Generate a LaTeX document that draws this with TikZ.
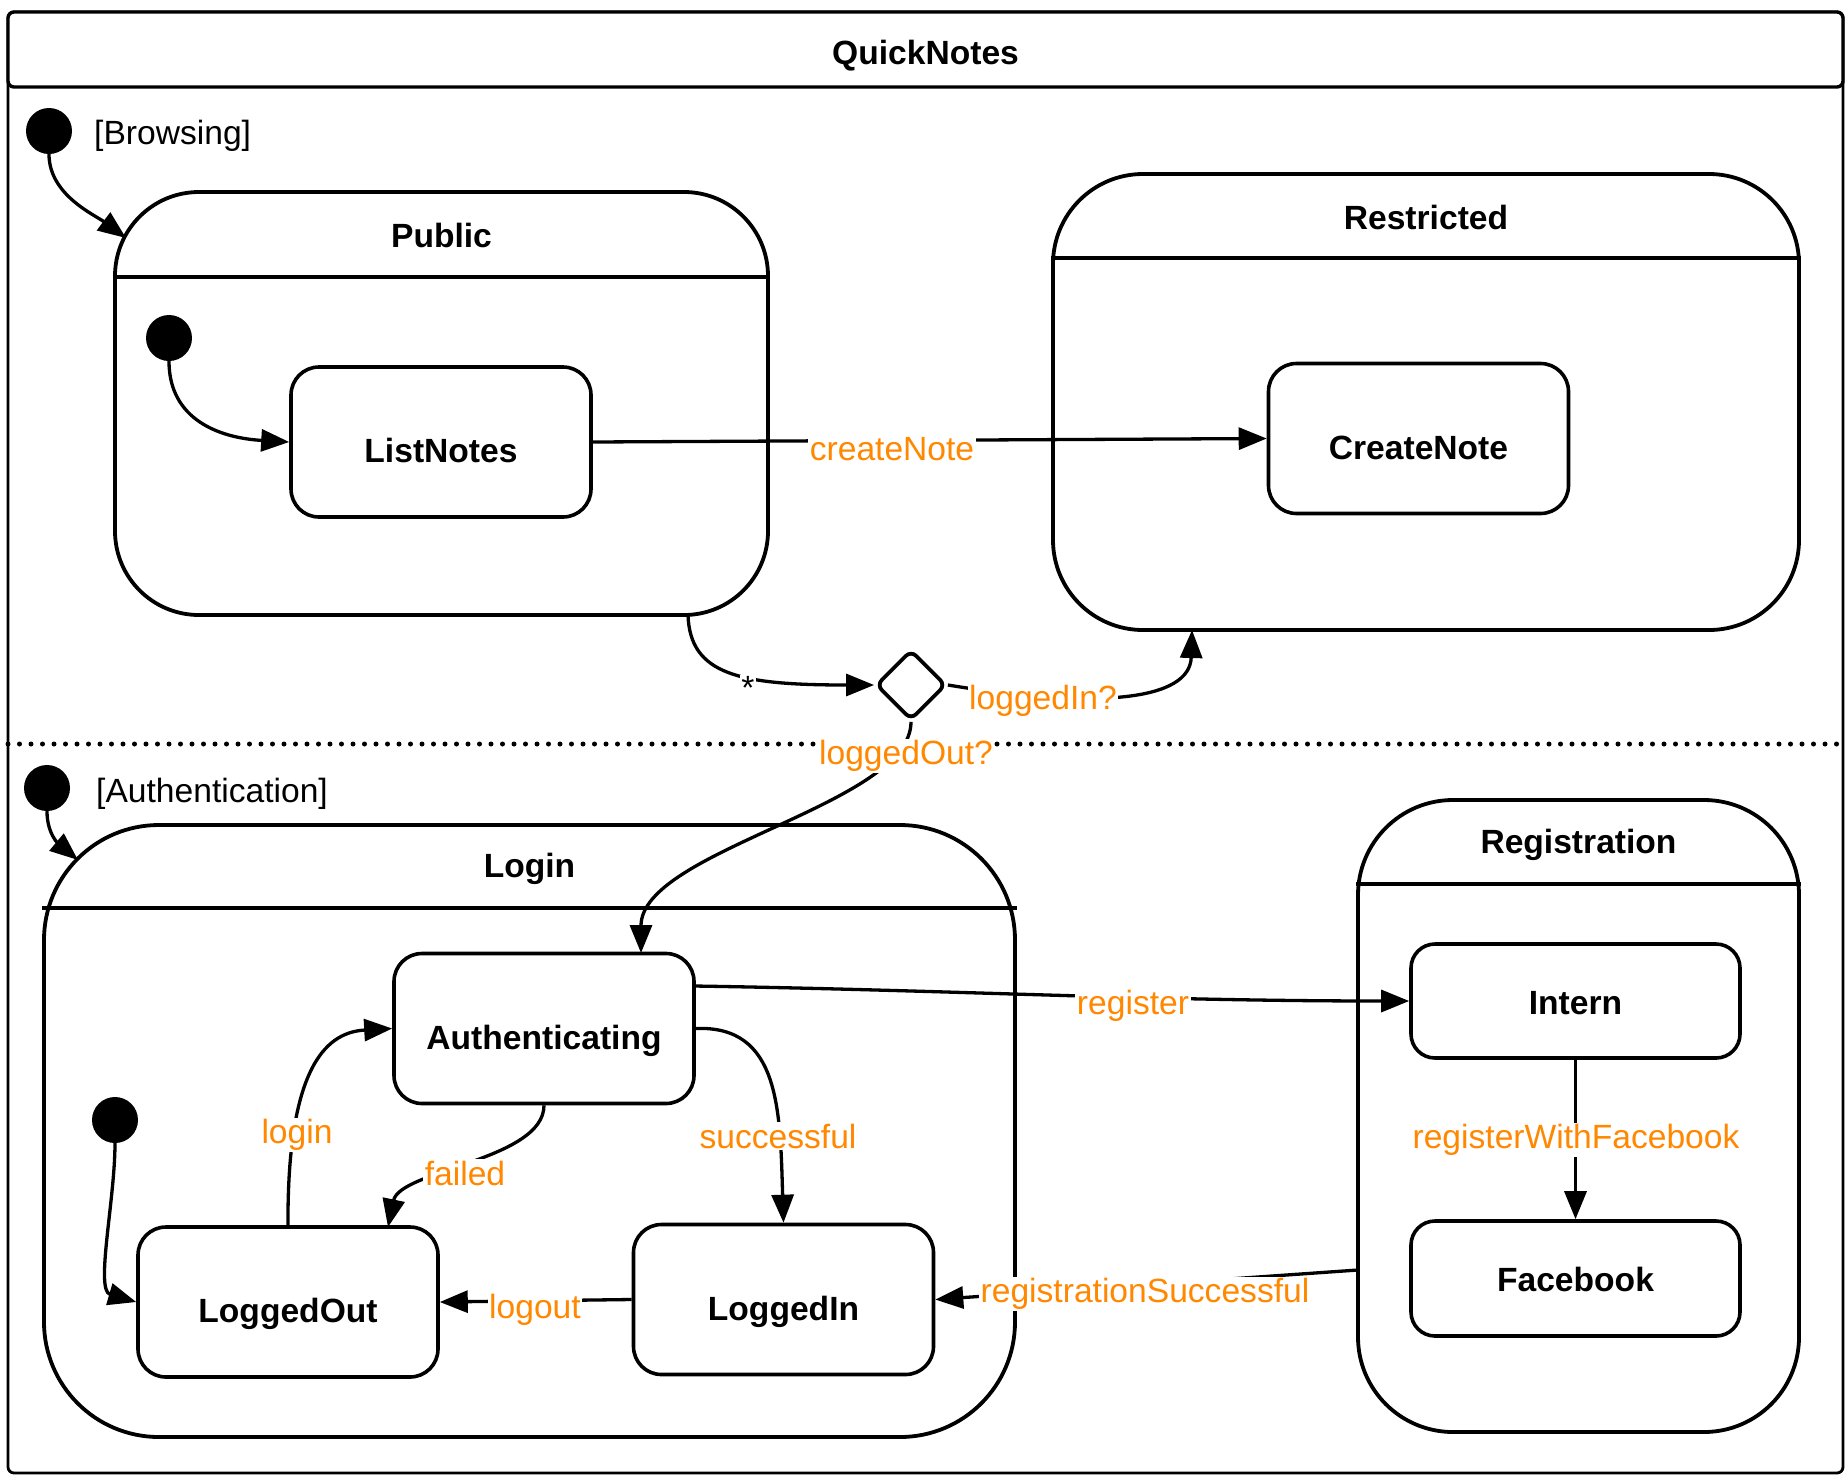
\documentclass[tikz,border=0pt]{standalone}
\usepackage{fontspec}
\setmainfont{Liberation Sans}
\usetikzlibrary{arrows.meta,shapes.geometric,calc}
\definecolor{evt}{HTML}{FF8800}
\begin{document}
\begin{tikzpicture}[x=1pt,y=-1pt,
  every node/.style={inner sep=0pt},
  txt/.style={font=\fontsize{33.6}{40}\selectfont},
  bold/.style={font=\fontsize{33.6}{40}\selectfont\bfseries},
  simple/.style={draw, line width=3.6pt, rounded corners=28pt, bold,
                 minimum width=300pt, minimum height=150pt,
                 text height=41pt, text depth=0pt},
  comp/.style={draw, line width=3.8pt},
  hdr/.style={line width=3.6pt},
  init/.style={circle, fill=black, minimum size=46pt},
  evlbl/.style={txt, text=evt, fill=white, inner sep=1.5pt},
  tr/.style={line width=3.3pt, -{Triangle[length=28pt,width=22pt]}},
  sepline/.style={line width=5pt, line cap=round, dash pattern=on 0pt off 11.5pt}]
\useasboundingbox (0,0) rectangle (1845,1476);

% enclosing state machine frame with its title bar
\node[draw, line width=2.8pt, rounded corners=6pt,
      minimum width=1835pt, minimum height=1461pt] (frame) at (925.5,742.5) {};
\node[draw, fill=white, line width=3.4pt, rounded corners=6pt,
      minimum width=1835pt, minimum height=75pt] (bar) at (925.5,49.5) {};
\node[bold] (qn) at ($(bar.center)+(0,6)$) {QuickNotes};

% region separator
\coordinate (sepL) at (8,744);
\coordinate (sepR) at (1843,744);
\draw[sepline] (sepL) -- (sepR);

% composite states
\node[comp, rounded corners=84pt, minimum width=653pt, minimum height=423pt] (pub) at (441.5,403.5) {};
\draw[hdr] ($(pub.north west)+(0,87)$) -- ($(pub.north east)+(0,87)$);
\node[bold] (pubT) at ($(pub.north)+(0,45)$) {Public};

\node[comp, rounded corners=90pt, minimum width=746pt, minimum height=456pt] (res) at (1426,402) {};
\draw[hdr] ($(res.north west)+(0,86)$) -- ($(res.north east)+(0,86)$);
\node[bold] (resT) at ($(res.north)+(0,45)$) {Restricted};

\node[comp, rounded corners=115pt, minimum width=971pt, minimum height=612pt] (login) at (529.5,1131) {};
\draw[hdr] ($(login.north west)+(0,85)$) -- ($(login.north east)+(0,85)$);
\node[bold] (loginT) at ($(login.north)+(0,46)$) {Login};

\node[comp, rounded corners=95pt, minimum width=441pt, minimum height=632pt] (reg) at (1578.5,1116) {};
\draw[hdr] ($(reg.north west)+(0,86)$) -- ($(reg.north east)+(0,86)$);
\node[bold] (regT) at ($(reg.north)+(0,47)$) {Registration};

% simple states
\node[simple] (ln) at (441,442) {ListNotes};
\node[simple] (cn) at (1418.5,438.5) {CreateNote};
\node[simple] (auth) at (544,1028.5) {Authenticating};
\node[simple] (lo) at (288,1302) {LoggedOut};
\node[simple] (li) at (783.5,1299.5) {LoggedIn};
\node[simple, rounded corners=24pt, minimum width=329pt, minimum height=114pt,
      text height=26pt] (intern) at (1575.5,1001) {Intern};
\node[simple, rounded corners=24pt, minimum width=329pt, minimum height=115pt,
      text height=26pt] (fb) at (1575.5,1278.5) {Facebook};

% choice pseudostate
\node[draw, diamond, line width=3.8pt, rounded corners=7pt,
      minimum width=70pt, minimum height=70pt] (dec) at (911,685) {};

% initial pseudostates
\node[init] (ib) at (49,131) {};
\node[txt, anchor=west] (ibT) at (94,136) {[Browsing]};
\node[init] (ip) at (169,338) {};
\node[init] (ia) at (47,788) {};
\node[txt, anchor=west] (iaT) at (96,794) {[Authentication]};
\node[init] (il) at (115,1120) {};

% border points of the composite states
\coordinate (pubIn) at (126,238);
\coordinate (pubOut) at (688,615);
\coordinate (resIn) at (1192,630);
\coordinate (loginIn) at (78,860);
\coordinate (regOut) at (1358,1270);
\coordinate (authTop) at (641,953);
\coordinate (loTop) at (388,1227);
\coordinate (authReg) at (694,986);

% transitions
\draw[tr] (ib.south) .. controls (49,195) and (95,215) .. (pubIn);
\draw[tr] (ip.south) .. controls (169,420) and (220,438) .. (ln.west);
\draw[tr] (ln.east) -- (cn.west);
\draw[tr] (pubOut) .. controls (690,675) and (740,685) .. (dec.west);
\draw[tr] (dec.east) .. controls (1100,710) and (1190,700) .. (resIn);
\draw[tr] (dec.south) .. controls (911,805) and (641,850) .. (authTop);
\draw[tr] (ia.south) .. controls (47,835) and (60,845) .. (loginIn);
\draw[tr] (il.south) .. controls (115,1200) and (95,1290) .. (lo.west);
\draw[tr] (lo.north) .. controls (287,1060) and (330,1032) .. (auth.west);
\draw[tr] (auth.south) .. controls (544,1160) and (400,1170) .. (loTop);
\draw[tr] (auth.east) .. controls (780,1025) and (780,1110) .. (li.north);
\draw[tr] (authReg) .. controls (950,990) and (1150,1001) .. (intern.west);
\draw[tr] (li.west) -- (lo.east);
\draw[tr] (intern.south) -- (fb.north);
\draw[tr] (regOut) -- (li.east);

% transition labels
\node[txt, fill=white, inner sep=1pt] (star) at (748,688) {*};
\node[evlbl] (lCreate) at (892,449) {createNote};
\node[evlbl] (lIn) at (1043,701) {loggedIn?};
\node[evlbl] (lOut) at (906,756) {loggedOut?};
\node[evlbl] (lReg) at (1133,1006) {register};
\node[evlbl] (lLogin) at (297,1135) {login};
\node[evlbl] (lFail) at (465,1173) {failed};
\node[evlbl] (lSucc) at (778,1136) {successful};
\node[evlbl] (lLogout) at (535,1310) {logout};
\node[evlbl] (lFb) at (1576,1140) {registerWithFacebook};
\node[evlbl] (lRegOk) at (1145,1294) {registrationSuccessful};
\end{tikzpicture}
\end{document}
